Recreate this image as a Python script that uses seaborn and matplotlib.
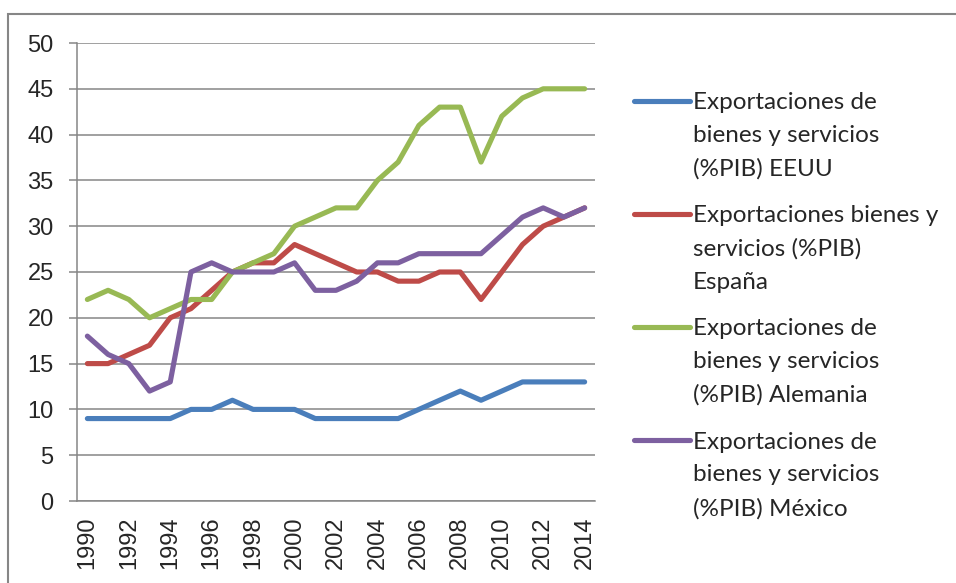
import numpy as np, pandas as pd, matplotlib
matplotlib.use("Agg")
import matplotlib.pyplot as plt
import seaborn as sns
from matplotlib.patches import Rectangle

YEARS=list(range(1990,2015))
EEUU=[9,9,9,9,9,10,10,11,10,10,10,9,9,9,9,9,10,11,12,11,12,13,13,13,13]
ESPANA=[15,15,16,17,20,21,23,25,26,26,28,27,26,25,25,24,24,25,25,22,25,28,30,31,32]
ALEMANIA=[22,23,22,20,21,22,22,25,26,27,30,31,32,32,35,37,41,43,43,37,42,44,45,45,45]
MEXICO=[18,16,15,12,13,25,26,25,25,25,26,23,23,24,26,26,27,27,27,27,29,31,32,31,32]
LABELS=["Exportaciones de\nbienes y servicios\n(%PIB) EEUU",
        "Exportaciones bienes y\nservicios (%PIB)\nEspaña",
        "Exportaciones de\nbienes y servicios\n(%PIB) Alemania",
        "Exportaciones de\nbienes y servicios\n(%PIB) México"]
COLORS=["#4A7EBB","#BE4B48","#98B954","#7D60A0"]
GRID="#868686"

rows=[]
for lab,vals in zip(LABELS,[EEUU,ESPANA,ALEMANIA,MEXICO]):
    for i,v in enumerate(vals): rows.append({"idx":i,"year":YEARS[i],"value":v,"serie":lab})
df=pd.DataFrame(rows)

sns.set_style("white")
plt.rcParams["font.family"]=["Liberation Sans","DejaVu Sans"]
fig=plt.figure(figsize=(9.56,5.83),dpi=100)
ax=fig.add_axes([77/956,1-501/583,(595-77)/956,(501-43)/583])
sns.lineplot(data=df,x="idx",y="value",hue="serie",palette=COLORS,linewidth=3.7,ax=ax,legend=True,
             solid_capstyle="round")

ax.set_xlim(-0.5,24.5); ax.set_ylim(0,50)
ax.set_yticks(range(0,51,5))
ax.set_xticks(range(0,25,2)); ax.set_xticklabels([str(y) for y in YEARS[::2]],rotation=90)
ax.set_xticks(np.arange(-0.5,25,1),minor=True)
ax.tick_params(axis="x",which="major",length=0,pad=11,labelsize=17)
ax.tick_params(axis="x",which="minor",length=5,width=1.1,color=GRID,direction="out")
ax.tick_params(axis="y",length=5.8,width=1.1,color=GRID,pad=11,labelsize=17,left=True)
ax.grid(True,axis="y",color=GRID,linewidth=1.1)
ax.set_axisbelow(True)
for s in ["top","right"]: ax.spines[s].set_visible(False)
for s in ["left","bottom"]: ax.spines[s].set_color(GRID); ax.spines[s].set_linewidth(1.1)
ax.set_xlabel(""); ax.set_ylabel("")

h,l=ax.get_legend_handles_labels()
ax.get_legend().remove()
leg=fig.legend(h,l,loc="upper left",bbox_to_anchor=(634/956,1-92/583),frameon=False,borderpad=0,borderaxespad=0,
               prop={"family":"Lato","size":17.5},handlelength=2.3,handletextpad=0.12,labelspacing=1.05)
for t in leg.get_texts(): t.set_linespacing(1.7)
# handle level with the first text line, like the spreadsheet legend
for col in leg._legend_handle_box.get_children():
    for item in col.get_children(): item.align="top"

fig.patches.append(Rectangle((8/956,-0.1),1.1,1.1-14/583,transform=fig.transFigure,fill=False,
                             edgecolor=GRID,linewidth=1.5))
fig.savefig("out.png",dpi=100)
